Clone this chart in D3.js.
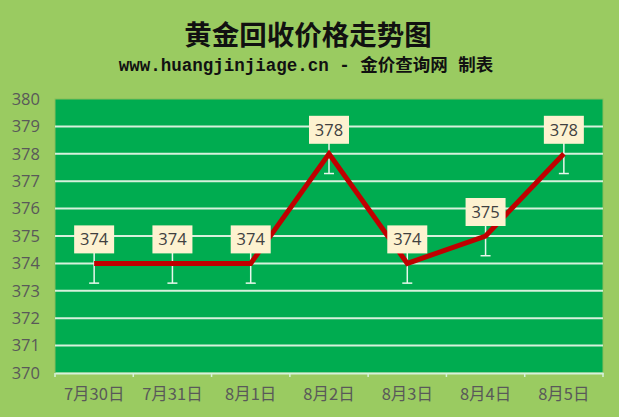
<!DOCTYPE html>
<html><head><meta charset="utf-8">
<script src="https://cdn.jsdelivr.net/npm/d3@7"></script>
<style>html,body{margin:0;padding:0;background:#9ACB61;}svg{display:block;}</style>
</head><body>
<svg id="c" width="619" height="417"></svg>
<script>
const categories = ["7月30日","7月31日","8月1日","8月2日","8月3日","8月4日","8月5日"];
const prices = [374, 374, 374, 378, 374, 375, 378];
const errorAmount = [0.72, 0.72, 0.72, 0.72, 0.72, 0.72, 0.72];
const yTicks = [370,371,372,373,374,375,376,377,378,379,380];
const titleText = "黄金回收价格走势图";
const subtitleText = "www.huangjinjiage.cn - 金价查询网 制表";

const svg = d3.select("#c");
const W = 619, H = 417;
const m = {left:55, right:16, top:99, bottom:44};
svg.append("rect").attr("width",W).attr("height",H).attr("fill","#9ACB61");

const x = d3.scaleBand().domain(categories).range([m.left, W - m.right]);
const y = d3.scaleLinear().domain([370,380]).range([H - m.bottom, m.top]);

// plot area
svg.append("rect").attr("x",m.left).attr("y",m.top)
  .attr("width",W-m.left-m.right).attr("height",H-m.top-m.bottom)
  .attr("fill","#00AC50").attr("stroke","#86BE5A").attr("stroke-width",1);

// gridlines
svg.append("g").selectAll("line").data(yTicks.filter(t=>t>370 && t<380)).join("line")
  .attr("x1",m.left).attr("x2",W-m.right)
  .attr("y1",d=>y(d)).attr("y2",d=>y(d))
  .attr("stroke","#D6F1DC").attr("stroke-width",2);

// y axis
const yAxis = svg.append("g").attr("transform",`translate(${m.left},0)`)
  .call(d3.axisLeft(y).tickValues(yTicks).tickSize(0).tickPadding(15).tickFormat(d3.format("d")));
yAxis.select(".domain").remove();
yAxis.selectAll("text").attr("fill","#595959").attr("font-size",16.5)
  .attr("font-family","'Open Sans','Noto Sans',sans-serif");

// x axis
const xAxis = svg.append("g").attr("transform",`translate(0,${H-m.bottom})`)
  .call(d3.axisBottom(x).tickSize(0).tickPadding(15));
xAxis.select(".domain").attr("stroke","#D6F1DC").attr("stroke-width",2);
xAxis.selectAll("text").attr("fill","#595959").attr("font-size",16.5)
  .attr("font-family","'Noto Sans CJK SC','Open Sans',sans-serif");
// boundary ticks
const bounds = categories.map(c=>x(c)).concat([x(categories[categories.length-1])+x.bandwidth()]);
svg.append("g").selectAll("line").data(bounds).join("line")
  .attr("x1",d=>d).attr("x2",d=>d)
  .attr("y1",H-m.bottom).attr("y2",H-m.bottom+4)
  .attr("stroke","#D6F1DC").attr("stroke-width",1.5);

const cx = d => x(d) + x.bandwidth()/2;
const pts = categories.map((c,i)=>({c, v:prices[i], e:errorAmount[i]}));

// error bars
const eb = svg.append("g").attr("stroke","#E8F7EC").attr("stroke-width",1.5);
pts.forEach(p=>{
  eb.append("line").attr("x1",cx(p.c)).attr("x2",cx(p.c))
    .attr("y1",y(p.v+p.e)).attr("y2",y(p.v-p.e));
  eb.append("line").attr("x1",cx(p.c)-5).attr("x2",cx(p.c)+5)
    .attr("y1",y(p.v-p.e)).attr("y2",y(p.v-p.e));
});

// line
svg.append("path").datum(pts)
  .attr("d",d3.line().x(p=>cx(p.c)).y(p=>y(p.v)))
  .attr("fill","none").attr("stroke","#C00000").attr("stroke-width",5)
  .attr("stroke-linejoin","miter");

// labels
const lab = svg.append("g").selectAll("g").data(pts).join("g")
  .attr("transform",p=>`translate(${cx(p.c)},${y(p.v)-24})`);
lab.append("rect").attr("x",-20).attr("y",-14).attr("width",40).attr("height",28)
  .attr("fill","#FDF2D0");
lab.append("text").text(p=>p.v).attr("text-anchor","middle").attr("dy","0.36em")
  .attr("font-size",16.5).attr("fill","#404040")
  .attr("font-family","'Open Sans','Noto Sans',sans-serif");

// titles
svg.append("text").text(titleText).attr("x",308).attr("y",45).attr("text-anchor","middle")
  .attr("font-size",27.5).attr("font-weight","bold").attr("fill","#111")
  .attr("font-family","'Noto Sans CJK SC',sans-serif");
svg.append("text").text(subtitleText).attr("x",306).attr("y",71).attr("text-anchor","middle")
  .attr("font-size",17.5).attr("font-weight","bold").attr("fill","#111")
  .attr("font-family","'Liberation Mono','Noto Sans CJK SC',monospace");
</script>
</body></html>
